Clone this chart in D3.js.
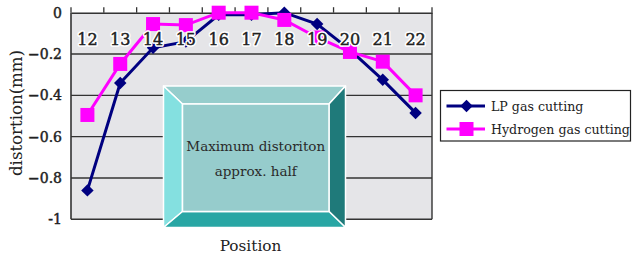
<!DOCTYPE html>
<html><head><meta charset="utf-8">
<script src="https://cdn.jsdelivr.net/npm/d3@7"></script>
<style>html,body{margin:0;padding:0;background:#fff;}svg{display:block;}</style>
</head><body>
<svg id="c" width="632" height="256"></svg>
<script>
const categories = ["12","13","14","15","16","17","18","19","20","21","22"];
const lpValues = [-0.86,-0.34,-0.17,-0.14,-0.01,-0.01,0.0,-0.055,-0.18,-0.325,-0.485];
const h2Values = [-0.495,-0.248,-0.055,-0.06,0.0,0.0,-0.035,-0.12,-0.19,-0.237,-0.40];
const yTicks = [0,-0.2,-0.4,-0.6,-0.8,-1];
const seriesNames = ["LP gas cutting","Hydrogen gas cutting"];
const boxLines = ["Maximum distoriton","approx. half"];

const FONT = "'DejaVu Serif', serif";
const svg = d3.select("#c");
const L = 71, R = 432, T = 12.7, B = 219.3;
const x = d3.scaleBand().domain(categories).range([L, R]).padding(0);
const y = d3.scaleLinear().domain([-1, 0]).range([B, T]);

// plot background
svg.append("rect").attr("x", L).attr("y", T).attr("width", R - L).attr("height", B - T).attr("fill", "#e5e5e8");

// gridlines
svg.append("g").selectAll("line").data(yTicks.filter(d => d !== 0)).join("line")
  .attr("x1", L).attr("x2", R).attr("y1", d => y(d)).attr("y2", d => y(d))
  .attr("stroke", "#333").attr("stroke-width", 1.4);
// frame
svg.append("line").attr("x1", L).attr("x2", L).attr("y1", T).attr("y2", B).attr("stroke", "#333").attr("stroke-width", 1.6);
svg.append("line").attr("x1", R).attr("x2", R).attr("y1", T).attr("y2", B).attr("stroke", "#333").attr("stroke-width", 1.4);

// top x axis with ticks upward
const xAxis = d3.axisTop(x).tickSize(0).tickFormat("");
const gx = svg.append("g").attr("transform", `translate(0,${y(0)})`).call(xAxis);
gx.select(".domain").attr("stroke", "#333").attr("stroke-width", 1.6);
const edges = categories.map(c => x(c)).concat([R]);
svg.append("g").selectAll("line").data(edges).join("line")
  .attr("x1", d => d).attr("x2", d => d).attr("y1", y(0)).attr("y2", y(0) - 5.5)
  .attr("stroke", "#333").attr("stroke-width", 1.3);

// y axis labels
const yAxis = d3.axisLeft(y).tickValues(yTicks).tickSize(0).tickPadding(9)
  .tickFormat(d => d === 0 ? "0" : (d === -1 ? "-1" : d3.format(".1f")(d)));
const gy = svg.append("g").attr("transform", `translate(${L},0)`).call(yAxis);
gy.select(".domain").remove();
gy.selectAll("text").attr("font-family", FONT).attr("font-size", 14).attr("fill", "#222")
  .attr("stroke", "#222").attr("stroke-width", 0.45);

// series
function drawSeries(vals, color, shape) {
  const line = d3.line().x((d, i) => x(categories[i]) + x.bandwidth() / 2).y(d => y(d));
  svg.append("path").datum(vals).attr("d", line).attr("fill", "none").attr("stroke", color).attr("stroke-width", 3);
  const g = svg.append("g");
  if (shape === "diamond") {
    g.selectAll("path").data(vals).join("path")
      .attr("d", d3.symbol().type(d3.symbolSquare).size(78))
      .attr("transform", (d, i) => `translate(${x(categories[i]) + x.bandwidth() / 2},${y(d)}) rotate(45)`)
      .attr("fill", color);
  } else {
    g.selectAll("rect").data(vals).join("rect")
      .attr("x", (d, i) => x(categories[i]) + x.bandwidth() / 2 - 7)
      .attr("y", d => y(d) - 7).attr("width", 14).attr("height", 14).attr("fill", color);
  }
}
drawSeries(lpValues, "#000080", "diamond");
drawSeries(h2Values, "#ff00ff", "square");

// category labels with white halo
const lblG = svg.append("g");
lblG.selectAll("text.halo").data(categories).join("text").attr("class", "halo")
  .attr("x", d => x(d) + x.bandwidth() / 2).attr("y", 45)
  .attr("text-anchor", "middle").attr("font-family", FONT).attr("font-size", 16)
  .attr("fill", "#fff").attr("stroke", "#fff").attr("stroke-width", 3.5)
  .attr("stroke-linejoin", "round").text(d => d);
lblG.selectAll("text.lbl").data(categories).join("text").attr("class", "lbl")
  .attr("x", d => x(d) + x.bandwidth() / 2).attr("y", 45)
  .attr("text-anchor", "middle").attr("font-family", FONT).attr("font-size", 16)
  .attr("fill", "#222").attr("stroke", "#222").attr("stroke-width", 0.45).text(d => d);

// bevel box
const bo = {x0: 163.5, y0: 86, x1: 345.5, y1: 227.5};
const bi = {x0: 182.5, y0: 104, x1: 329, y1: 211.5};
const bg = svg.append("g");
const poly = (pts, fill) => bg.append("polygon").attr("points", pts.map(p => p.join(",")).join(" "))
  .attr("fill", fill).attr("stroke", "#fff").attr("stroke-width", 1.5).attr("stroke-linejoin", "round");
poly([[bo.x0,bo.y0],[bo.x1,bo.y0],[bi.x1,bi.y0],[bi.x0,bi.y0]], "#96cdcc");
poly([[bo.x0,bo.y0],[bi.x0,bi.y0],[bi.x0,bi.y1],[bo.x0,bo.y1]], "#84e0e0");
poly([[bo.x1,bo.y0],[bo.x1,bo.y1],[bi.x1,bi.y1],[bi.x1,bi.y0]], "#1f7a7a");
poly([[bo.x0,bo.y1],[bi.x0,bi.y1],[bi.x1,bi.y1],[bo.x1,bo.y1]], "#28a6a4");
poly([[bi.x0,bi.y0],[bi.x1,bi.y0],[bi.x1,bi.y1],[bi.x0,bi.y1]], "#96cccc");
bg.selectAll("text").data(boxLines).join("text")
  .attr("x", (bi.x0 + bi.x1) / 2).attr("y", (d, i) => 150.5 + i * 25)
  .attr("text-anchor", "middle").attr("font-family", FONT).attr("font-size", 13.5)
  .attr("fill", "#2a2a2a").text(d => d);

// axis titles
svg.append("text").attr("transform", "translate(21.5,113) rotate(-90)")
  .attr("text-anchor", "middle").attr("font-family", FONT).attr("font-size", 16.6)
  .attr("fill", "#222").text("distortion(mm)");
svg.append("text").attr("x", 250.5).attr("y", 251).attr("text-anchor", "middle")
  .attr("font-family", FONT).attr("font-size", 15.3).attr("fill", "#222").text("Position");

// legend
const lg = svg.append("g");
lg.append("rect").attr("x", 440.5).attr("y", 90.5).attr("width", 190).attr("height", 50.5)
  .attr("fill", "#fff").attr("stroke", "#222").attr("stroke-width", 1.2);
const legendRows = [
  {name: seriesNames[0], color: "#000080", shape: "diamond", cy: 106},
  {name: seriesNames[1], color: "#ff00ff", shape: "square", cy: 129}
];
legendRows.forEach(r => {
  lg.append("line").attr("x1", 446.5).attr("x2", 485).attr("y1", r.cy).attr("y2", r.cy)
    .attr("stroke", r.color).attr("stroke-width", 3);
  if (r.shape === "diamond") {
    lg.append("path").attr("d", d3.symbol().type(d3.symbolSquare).size(78)())
      .attr("transform", `translate(466.5,${r.cy}) rotate(45)`).attr("fill", r.color);
  } else {
    lg.append("rect").attr("x", 459.5).attr("y", r.cy - 7).attr("width", 14).attr("height", 14).attr("fill", r.color);
  }
  lg.append("text").attr("x", 491).attr("y", r.cy + 4.5).attr("font-family", FONT).attr("font-size", 12.6)
    .attr("fill", "#222").text(r.name);
});
</script>
</body></html>
